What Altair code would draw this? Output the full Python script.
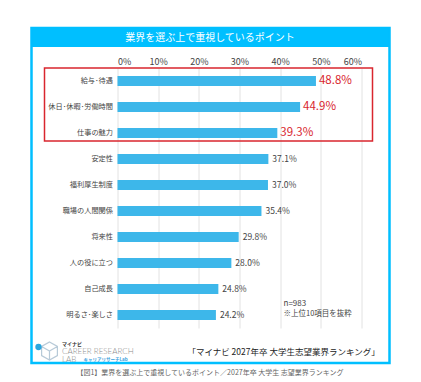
import altair as alt
import pandas as pd

categories = ["給与･待遇", "休日･休暇･労働時間", "仕事の魅力", "安定性", "福利厚生制度",
              "職場の人間関係", "将来性", "人の役に立つ", "自己成長", "明るさ･楽しさ"]
values = [48.8, 44.9, 39.3, 37.1, 37.0, 35.4, 29.8, 28.0, 24.8, 24.2]
x_ticks = [0, 10, 20, 30, 40, 50, 60]

title_text = "業界を選ぶ上で重視しているポイント"
note_lines = ["n=983", "※上位10項目を抜粋"]
source_text = "「マイナビ  2027年卒  大学生志望業界ランキング」"
caption_text = "【図1】業界を選ぶ上で重視しているポイント／2027年卒 大学生 志望業界ランキング"

FONT = "Noto Sans CJK JP"
CYAN = "#00BFFF"
BAR = "#3DB7EA"
RED = "#D9262E"

df = pd.DataFrame({"cat": categories, "val": values})
one = pd.DataFrame({"a": [0]})

W, H = 244, 260

y_enc = alt.Y("cat:N", sort=categories, scale=alt.Scale(paddingInner=0.6, paddingOuter=0.3),
              axis=alt.Axis(title=None, ticks=False, domain=False, labelFontSize=7.2,
                            labelColor="#444", labelPadding=5, labelFont=FONT, grid=False))
x_scale = alt.Scale(domain=[0, 60], nice=False)

base = alt.Chart(df)

bars = base.mark_bar(color=BAR, size=10).encode(
    x=alt.X("val:Q", scale=x_scale,
            axis=alt.Axis(orient="top", title=None, values=x_ticks, labelExpr="datum.value + '%'",
                          ticks=False, domain=False, grid=True, gridColor="#e2e2e2",
                          labelFontSize=9, labelColor="#444", labelFont=FONT, labelPadding=2)),
    y=y_enc,
)

ranked = base.transform_window(rank="row_number()").transform_calculate(
    lbl="format(datum.val, '.1f') + '%'")

top_pct = ranked.transform_filter("datum.rank <= 3").mark_text(
    align="left", baseline="middle", dx=3, fontSize=11.5, color=RED, font=FONT
).encode(x=alt.X("val:Q", scale=x_scale), y=alt.Y("cat:N", sort=categories), text="lbl:N")

other_labels = ranked.transform_filter("datum.rank > 3").mark_text(
    align="left", baseline="middle", dx=4, fontSize=8.5, color="#444", font=FONT
).encode(x=alt.X("val:Q", scale=x_scale), y=alt.Y("cat:N", sort=categories), text="lbl:N")

oc = alt.Chart(one)

frame = oc.mark_rect(fill=None, stroke=CYAN, strokeWidth=2.5).encode(
    x=alt.value(-86), x2=alt.value(272), y=alt.value(-40), y2=alt.value(295))
title_bar = oc.mark_rect(fill=CYAN).encode(
    x=alt.value(-86), x2=alt.value(272), y=alt.value(-41), y2=alt.value(-21))
title = oc.mark_text(color="white", fontSize=10, font=FONT, align="center", baseline="middle").encode(
    x=alt.value(92.5), y=alt.value(-30.5), text=alt.value(title_text))

red_box = oc.mark_rect(fill=None, stroke=RED, strokeWidth=1.5).encode(
    x=alt.value(-73), x2=alt.value(255), y=alt.value(0), y2=alt.value(73))

note1 = oc.mark_text(color="#444", fontSize=8, font=FONT, align="left", baseline="middle").encode(
    x=alt.value(166), y=alt.value(235.5), text=alt.value(note_lines[0]))
note2 = oc.mark_text(color="#444", fontSize=7.5, font=FONT, align="left", baseline="middle").encode(
    x=alt.value(166), y=alt.value(246), text=alt.value(note_lines[1]))

source = oc.mark_text(color="#222", fontSize=8.5, font=FONT, align="center", baseline="middle").encode(
    x=alt.value(166), y=alt.value(284), text=alt.value(source_text))
caption = oc.mark_text(color="#666", fontSize=7, font=FONT, align="center", baseline="middle").encode(
    x=alt.value(92.5), y=alt.value(304.5), text=alt.value(caption_text))

# logo
cube = oc.mark_point(shape="M0,-1L0.87,-0.5L0.87,0.5L0,1L-0.87,0.5L-0.87,-0.5ZM0,0L0.87,-0.5M0,0L-0.87,-0.5M0,0L0,1",
                     size=330, filled=False, stroke="#9ab4c8", strokeWidth=1.2).encode(
    x=alt.value(-68), y=alt.value(283))
dot = oc.mark_point(shape="circle", size=40, filled=True, color="#2BA6DE", opacity=1).encode(
    x=alt.value(-79), y=alt.value(279))
logo1 = oc.mark_text(color="#333", fontSize=5, fontWeight="bold", font=FONT, align="left", baseline="middle").encode(
    x=alt.value(-55.5), y=alt.value(276), text=alt.value("マイナビ"))
logo2 = oc.mark_text(color="#8c8c8c", fontSize=8, font="Lato", fontWeight=300, align="left", baseline="middle").encode(
    x=alt.value(-55.5), y=alt.value(283.5), text=alt.value("CAREER RESEARCH"))
logo3 = oc.mark_text(color="#8c8c8c", fontSize=8, font="Lato", fontWeight=300, align="left", baseline="middle").encode(
    x=alt.value(-55.5), y=alt.value(292), text=alt.value("LAB"))
logo4 = oc.mark_text(color="#3aa0dc", fontSize=4.5, font=FONT, fontWeight="bold", align="left", baseline="middle").encode(
    x=alt.value(-34), y=alt.value(292), text=alt.value("キャリアリサーチLab"))

chart = alt.layer(
    title_bar, title, bars, top_pct, other_labels, red_box, frame, note1, note2,
    source, caption, cube, dot, logo1, logo2, logo3, logo4
).properties(
    width=W, height=H,
    autosize=alt.AutoSizeParams(type="none"),
    padding={"left": 109.5, "top": 60, "right": 51, "bottom": 48},
).configure_view(stroke=None)

chart.save("out.html", embed_options={"renderer": "svg", "actions": False})
